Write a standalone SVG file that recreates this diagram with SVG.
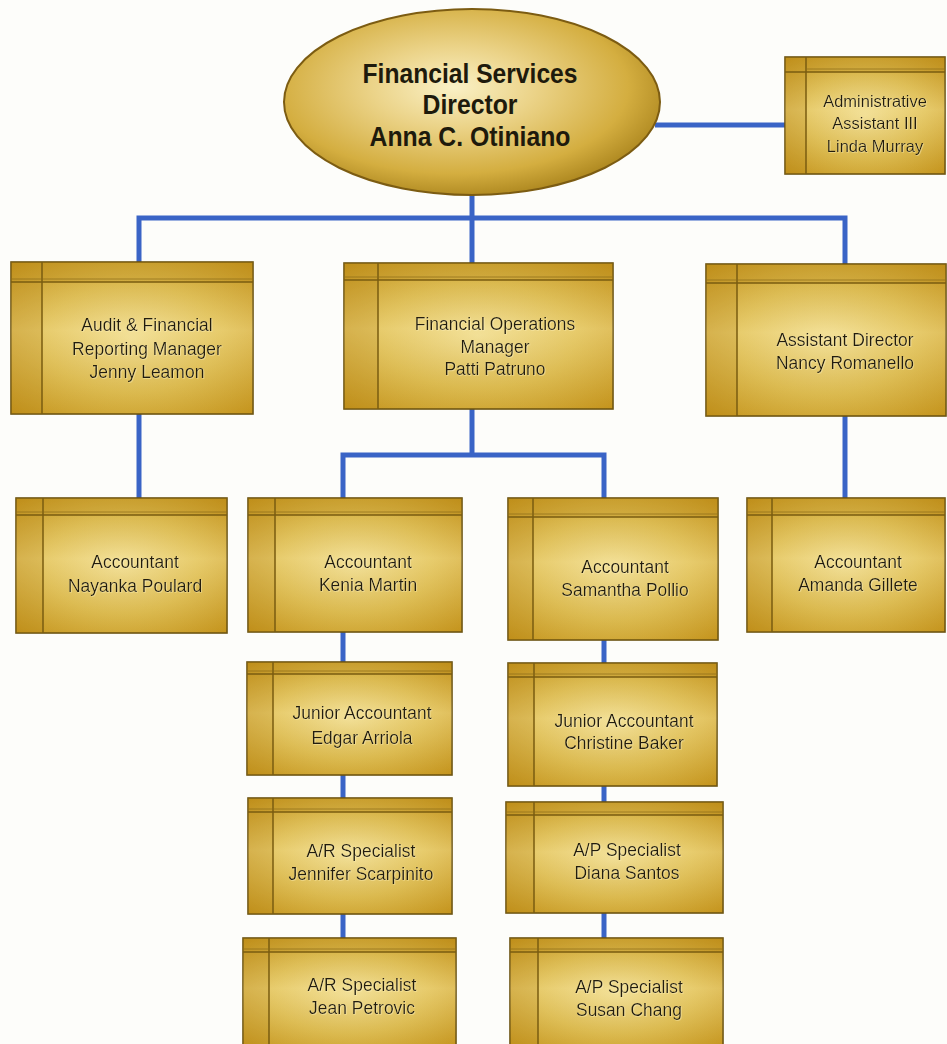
<svg xmlns="http://www.w3.org/2000/svg" width="947" height="1044" viewBox="0 0 947 1044">
<defs>
<radialGradient id="gold" cx="0.5" cy="0.5" r="0.72">
<stop offset="0" stop-color="#f0dc8e"/>
<stop offset="0.5" stop-color="#e0bf52"/>
<stop offset="1" stop-color="#c7951c"/>
</radialGradient>
<linearGradient id="sheen" x1="0" y1="0" x2="0" y2="1">
<stop offset="0" stop-color="#a87c10" stop-opacity="0.15"/>
<stop offset="0.45" stop-color="#fff4c0" stop-opacity="0.25"/>
<stop offset="1" stop-color="#a87c10" stop-opacity="0.12"/>
</linearGradient>
<radialGradient id="egold" cx="0.45" cy="0.42" r="0.62">
<stop offset="0" stop-color="#faf1c6"/>
<stop offset="0.35" stop-color="#ebd388"/>
<stop offset="0.75" stop-color="#d4ae40"/>
<stop offset="1" stop-color="#a7811a"/>
</radialGradient>
<filter id="emb" x="-5%" y="-20%" width="110%" height="140%">
<feDropShadow dx="0.7" dy="0.7" stdDeviation="0.3" flood-color="#fff3c0" flood-opacity="0.6"/>
</filter>
</defs>
<style>
.bx{fill:url(#gold);stroke:#6a5210;stroke-width:1.6}
.sh{fill:url(#sheen);stroke:none}
.strip{fill:#b07e10;fill-opacity:0.2;stroke:none}
.ln{stroke:#7a5c10;stroke-width:1.5;fill:none}
.hl{stroke:#8a6a18;stroke-width:1;fill:none;opacity:0.7}
.t{font-family:"Liberation Sans",Arial,sans-serif;font-size:17.5px;fill:#231d08;text-anchor:middle;filter:url(#emb)}
.ta{font-size:16.5px}
.et{font-family:"Liberation Sans",Arial,sans-serif;font-weight:bold;font-size:28px;fill:#1e1a0c;text-anchor:middle}
.c{stroke:#3a64c6;stroke-width:5;fill:none;stroke-linejoin:miter}
</style>
<rect width="947" height="1044" fill="#fdfdfa"/>
<g id="connectors">
<path class="c" d="M655 125H785"/>
<path class="c" d="M472 195V218M139 262V218H845V264M472 218V263"/>
<path class="c" d="M139 414V498"/>
<path class="c" d="M472 409V455M343 498V455H604V498"/>
<path class="c" d="M845 416V498"/>
<path class="c" d="M343 632V662M343 775V798M343 914V938"/>
<path class="c" d="M604 640V663M604 786V802M604 913V938"/>
</g>
<g id="director">
<ellipse cx="472" cy="102" rx="188" ry="93" fill="url(#egold)" stroke="#7c5c12" stroke-width="2"/>
<text class="et" x="470" y="83" textLength="215" lengthAdjust="spacingAndGlyphs">Financial Services</text>
<text class="et" x="470" y="114" textLength="95" lengthAdjust="spacingAndGlyphs">Director</text>
<text class="et" x="470" y="146" textLength="201" lengthAdjust="spacingAndGlyphs">Anna C. Otiniano</text>
</g>
<g id="admin">
<rect class="bx" x="785" y="57" width="160" height="117"/><rect class="sh" x="785" y="57" width="160" height="117"/>
<rect class="strip" x="785" y="57" width="21" height="117"/><rect class="strip" x="806" y="57" width="139" height="15"/>
<path class="ln" d="M785 72H945M806 57V174"/><path class="hl" d="M807 69H944"/>
<text class="t ta" x="875" y="107">Administrative</text>
<text class="t ta" x="875" y="129">Assistant III</text>
<text class="t ta" x="875" y="152">Linda Murray</text>
</g>
<g id="audit">
<rect class="bx" x="11" y="262" width="242" height="152"/><rect class="sh" x="11" y="262" width="242" height="152"/>
<rect class="strip" x="11" y="262" width="31" height="152"/><rect class="strip" x="42" y="262" width="211" height="20"/>
<path class="ln" d="M11 282H253M42 262V414"/><path class="hl" d="M12 279H252"/>
<text class="t" x="147" y="331">Audit &amp; Financial</text>
<text class="t" x="147" y="355">Reporting Manager</text>
<text class="t" x="147" y="378">Jenny Leamon</text>
</g>
<g id="finops">
<rect class="bx" x="344" y="263" width="269" height="146"/><rect class="sh" x="344" y="263" width="269" height="146"/>
<rect class="strip" x="344" y="263" width="34" height="146"/><rect class="strip" x="378" y="263" width="235" height="17"/>
<path class="ln" d="M344 280H613M378 263V409"/><path class="hl" d="M345 277H612"/>
<text class="t" x="495" y="330">Financial Operations</text>
<text class="t" x="495" y="353">Manager</text>
<text class="t" x="495" y="375">Patti Patruno</text>
</g>
<g id="asstdir">
<rect class="bx" x="706" y="264" width="240" height="152"/><rect class="sh" x="706" y="264" width="240" height="152"/>
<rect class="strip" x="706" y="264" width="31" height="152"/><rect class="strip" x="737" y="264" width="209" height="19"/>
<path class="ln" d="M706 283H946M737 264V416"/><path class="hl" d="M707 280H945"/>
<text class="t" x="845" y="346">Assistant Director</text>
<text class="t" x="845" y="369">Nancy Romanello</text>
</g>
<g id="nayanka">
<rect class="bx" x="16" y="498" width="211" height="135"/><rect class="sh" x="16" y="498" width="211" height="135"/>
<rect class="strip" x="16" y="498" width="27" height="135"/><rect class="strip" x="43" y="498" width="184" height="17"/>
<path class="ln" d="M16 515H227M43 498V633"/><path class="hl" d="M17 512H226"/>
<text class="t" x="135" y="568">Accountant</text>
<text class="t" x="135" y="592">Nayanka Poulard</text>
</g>
<g id="kenia">
<rect class="bx" x="248" y="498" width="214" height="134"/><rect class="sh" x="248" y="498" width="214" height="134"/>
<rect class="strip" x="248" y="498" width="27" height="134"/><rect class="strip" x="275" y="498" width="187" height="17"/>
<path class="ln" d="M248 515H462M275 498V632"/><path class="hl" d="M249 512H461"/>
<text class="t" x="368" y="568">Accountant</text>
<text class="t" x="368" y="591">Kenia Martin</text>
</g>
<g id="samantha">
<rect class="bx" x="508" y="498" width="210" height="142"/><rect class="sh" x="508" y="498" width="210" height="142"/>
<rect class="strip" x="508" y="498" width="25" height="142"/><rect class="strip" x="533" y="498" width="185" height="19"/>
<path class="ln" d="M508 517H718M533 498V640"/><path class="hl" d="M509 514H717"/>
<text class="t" x="625" y="573">Accountant</text>
<text class="t" x="625" y="596">Samantha Pollio</text>
</g>
<g id="amanda">
<rect class="bx" x="747" y="498" width="198" height="134"/><rect class="sh" x="747" y="498" width="198" height="134"/>
<rect class="strip" x="747" y="498" width="25" height="134"/><rect class="strip" x="772" y="498" width="173" height="17"/>
<path class="ln" d="M747 515H945M772 498V632"/><path class="hl" d="M748 512H944"/>
<text class="t" x="858" y="568">Accountant</text>
<text class="t" x="858" y="591">Amanda Gillete</text>
</g>
<g id="edgar">
<rect class="bx" x="247" y="662" width="205" height="113"/><rect class="sh" x="247" y="662" width="205" height="113"/>
<rect class="strip" x="247" y="662" width="26" height="113"/><rect class="strip" x="273" y="662" width="179" height="12"/>
<path class="ln" d="M247 674H452M273 662V775"/><path class="hl" d="M248 671H451"/>
<text class="t" x="362" y="719">Junior Accountant</text>
<text class="t" x="362" y="744">Edgar Arriola</text>
</g>
<g id="jennifer">
<rect class="bx" x="248" y="798" width="204" height="116"/><rect class="sh" x="248" y="798" width="204" height="116"/>
<rect class="strip" x="248" y="798" width="25" height="116"/><rect class="strip" x="273" y="798" width="179" height="14"/>
<path class="ln" d="M248 812H452M273 798V914"/><path class="hl" d="M249 809H451"/>
<text class="t" x="361" y="857">A/R Specialist</text>
<text class="t" x="361" y="880">Jennifer Scarpinito</text>
</g>
<g id="jean">
<rect class="bx" x="243" y="938" width="213" height="112"/><rect class="sh" x="243" y="938" width="213" height="112"/>
<rect class="strip" x="243" y="938" width="26" height="112"/><rect class="strip" x="269" y="938" width="187" height="14"/>
<path class="ln" d="M243 952H456M269 938V1050"/><path class="hl" d="M244 949H455"/>
<text class="t" x="362" y="991">A/R Specialist</text>
<text class="t" x="362" y="1014">Jean Petrovic</text>
</g>
<g id="christine">
<rect class="bx" x="508" y="663" width="209" height="123"/><rect class="sh" x="508" y="663" width="209" height="123"/>
<rect class="strip" x="508" y="663" width="26" height="123"/><rect class="strip" x="534" y="663" width="183" height="14"/>
<path class="ln" d="M508 677H717M534 663V786"/><path class="hl" d="M509 674H716"/>
<text class="t" x="624" y="727">Junior Accountant</text>
<text class="t" x="624" y="749">Christine Baker</text>
</g>
<g id="diana">
<rect class="bx" x="506" y="802" width="217" height="111"/><rect class="sh" x="506" y="802" width="217" height="111"/>
<rect class="strip" x="506" y="802" width="28" height="111"/><rect class="strip" x="534" y="802" width="189" height="13"/>
<path class="ln" d="M506 815H723M534 802V913"/><path class="hl" d="M507 812H722"/>
<text class="t" x="627" y="856">A/P Specialist</text>
<text class="t" x="627" y="879">Diana Santos</text>
</g>
<g id="susan">
<rect class="bx" x="510" y="938" width="213" height="112"/><rect class="sh" x="510" y="938" width="213" height="112"/>
<rect class="strip" x="510" y="938" width="28" height="112"/><rect class="strip" x="538" y="938" width="185" height="14"/>
<path class="ln" d="M510 952H723M538 938V1050"/><path class="hl" d="M511 949H722"/>
<text class="t" x="629" y="993">A/P Specialist</text>
<text class="t" x="629" y="1016">Susan Chang</text>
</g>
</svg>
